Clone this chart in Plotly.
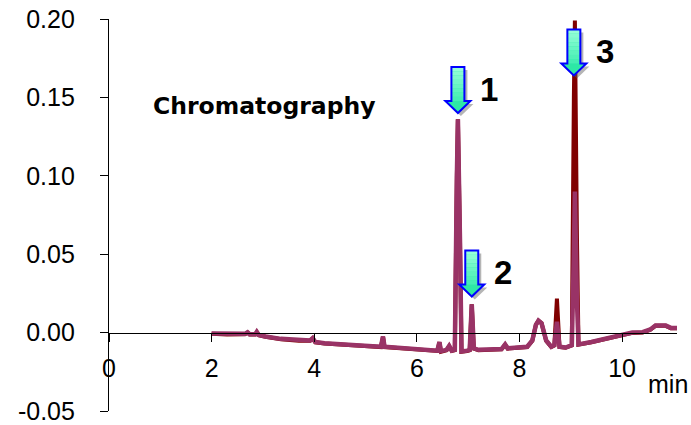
import plotly.graph_objects as go

# ---- data ----
time_min = [2.00, 2.30, 2.65, 2.70, 2.74, 2.85, 2.88, 2.92, 3.05, 3.35, 3.70, 3.92, 3.97, 4.02,
            4.20, 4.55, 4.90, 5.30, 5.34, 5.37, 5.70, 6.05, 6.40, 6.44, 6.47, 6.58, 6.63, 6.68,
            6.74, 6.78, 6.80, 6.84, 6.87, 6.98, 7.03, 7.07, 7.11, 7.20, 7.50, 7.65, 7.72, 7.77,
            8.15, 8.25, 8.32, 8.37, 8.43, 8.52, 8.62, 8.68, 8.73, 8.78, 8.90, 9.02, 9.06, 9.08,
            9.12, 9.15, 9.40, 9.60, 9.80, 10.00, 10.20, 10.40, 10.55, 10.65, 10.85, 10.95, 11.07]

signal_a = [-0.0006, -0.0010, -0.0008, 0.0002, -0.0010, -0.0010, 0.0005, -0.0015, -0.0025, -0.0040,
            -0.0050, -0.0050, -0.0035, -0.0060, -0.0068, -0.0072, -0.0082, -0.0090, -0.0025, -0.0090,
            -0.0100, -0.0110, -0.0115, -0.0060, -0.0118, -0.0110, -0.0085, -0.0115, -0.0110, 0.1000,
            0.1360, 0.0600, -0.0120, -0.0115, -0.0110, 0.0180, -0.0100, -0.0110, -0.0110, -0.0105,
            -0.0075, -0.0100, -0.0090, -0.0050, 0.0050, 0.0076, 0.0060, -0.0050, -0.0090, -0.0080,
            0.0070, -0.0090, -0.0095, -0.0080, 0.0500, 0.0900, 0.0200, -0.0075, -0.0060, -0.0045,
            -0.0025, -0.0015, 0.0000, 0.0003, 0.0020, 0.0045, 0.0045, 0.0030, 0.0030]

signal_b = [-0.0008, -0.0012, -0.0010, 0.0000, -0.0012, -0.0012, 0.0003, -0.0017, -0.0027, -0.0042,
            -0.0052, -0.0052, -0.0037, -0.0062, -0.0070, -0.0074, -0.0084, -0.0092, -0.0027, -0.0092,
            -0.0102, -0.0112, -0.0117, -0.0062, -0.0122, -0.0112, -0.0087, -0.0117, -0.0112, 0.1000,
            0.1360, 0.0600, -0.0122, -0.0117, -0.0112, 0.0180, -0.0102, -0.0112, -0.0112, -0.0107,
            -0.0077, -0.0102, -0.0092, -0.0052, 0.0050, 0.0076, 0.0060, -0.0052, -0.0092, -0.0082,
            0.0217, -0.0092, -0.0097, -0.0082, 0.1500, 0.1990, 0.0600, -0.0077, -0.0062, -0.0047,
            -0.0027, -0.0017, -0.0002, 0.0001, 0.0018, 0.0043, 0.0043, 0.0028, 0.0028]

peak_labels = ["1", "2", "3"]
peak_times = [6.80, 7.07, 9.06]
arrow_tips = [0.140, 0.023, 0.164]

y_ticks = [-0.05, 0.00, 0.05, 0.10, 0.15, 0.20]
x_ticks = [0, 2, 4, 6, 8, 10]

fig = go.Figure()
fig.add_trace(go.Scatter(x=time_min, y=signal_b, mode="lines",
                         line=dict(color="#800000", width=4), hoverinfo="skip"))
fig.add_trace(go.Scatter(x=time_min, y=signal_a, mode="lines",
                         line=dict(color="#993366", width=4.5), hoverinfo="skip"))

# arrow geometry in pixels (tip at 0,0; +y is up)
HW, SW, HH, L = 12.5, 6.5, 12, 46


def arrow_path(dx=0.0, dy=0.0):
    pts = [(0, 0), (-HW, HH), (-SW, HH), (-SW, L), (SW, L), (SW, HH), (HW, HH)]
    return "M " + " L ".join(f"{x + dx} {y + dy}" for x, y in pts) + " Z"


shapes = []
for xt, yt in zip(peak_times, arrow_tips):
    common = dict(type="path", xref="x", yref="y", xsizemode="pixel", ysizemode="pixel",
                  xanchor=xt, yanchor=yt, layer="above")
    shapes.append(dict(common, path=arrow_path(3, -3), fillcolor="rgba(90,90,90,0.45)",
                       line=dict(width=0)))
    shapes.append(dict(common, path=arrow_path(), fillcolor="#2EE8A6", line=dict(width=0)))
    n = 8
    for i in range(n):
        y0 = HH + (L - HH) * i / n
        y1 = HH + (L - HH) * (i + 1) / n
        t = (i + 1) / n
        r = int(0x3A + (0x96 - 0x3A) * t)
        g = int(0xEC + (0xFF - 0xEC) * t)
        b = int(0xAE + (0xD8 - 0xAE) * t)
        shapes.append(dict(common, path=f"M {-SW} {y0} L {-SW} {y1} L {SW} {y1} L {SW} {y0} Z",
                           fillcolor=f"rgb({r},{g},{b})", line=dict(width=0)))
    shapes.append(dict(common, path=arrow_path(), fillcolor="rgba(0,0,0,0)",
                       line=dict(color="#0000FF", width=2)))

annotations = []
for lab, xt, yt in zip(peak_labels, peak_times, arrow_tips):
    annotations.append(dict(x=xt, y=yt, xref="x", yref="y", text=f"<b>{lab}</b>", showarrow=False,
                            xshift=31, yshift=24,
                            font=dict(family="Liberation Sans, Arial", size=33, color="black"),
                            xanchor="center", yanchor="middle"))
annotations.append(dict(x=0.273, y=0.778, xref="paper", yref="paper", text="<b>Chromatography</b>",
                        showarrow=False, font=dict(family="DejaVu Sans", size=23.5, color="black"),
                        xanchor="center", yanchor="middle"))
annotations.append(dict(x=0.984, y=0.069, xref="paper", yref="paper", text="min",
                        showarrow=False, font=dict(family="Liberation Sans, Arial", size=25, color="black"),
                        xanchor="center", yanchor="middle"))

fig.update_layout(
    width=691, height=425,
    margin=dict(l=109, r=14, t=19, b=14, autoexpand=False),
    paper_bgcolor="white", plot_bgcolor="white",
    showlegend=False,
    shapes=shapes,
    annotations=annotations,
    xaxis=dict(range=[0, 11.07], tickvals=x_ticks, ticktext=[str(v) for v in x_ticks],
               anchor="free", position=0.2, showline=True, linecolor="black", linewidth=1.2,
               ticks="outside", ticklen=8, tickwidth=1.2, tickcolor="black", automargin=False,
               showgrid=False, zeroline=False, ticklabelstandoff=5,
               tickfont=dict(family="Liberation Sans, Arial", size=25, color="black")),
    yaxis=dict(range=[-0.05, 0.20], tickvals=y_ticks, ticktext=[f"{v:.2f}" for v in y_ticks],
               showline=True, linecolor="black", linewidth=1.2, automargin=False,
               ticks="outside", ticklen=8, tickwidth=1.2, tickcolor="black",
               showgrid=False, zeroline=False, ticklabelstandoff=20,
               tickfont=dict(family="Liberation Sans, Arial", size=25, color="black")),
)

fig.write_html("out.html")
